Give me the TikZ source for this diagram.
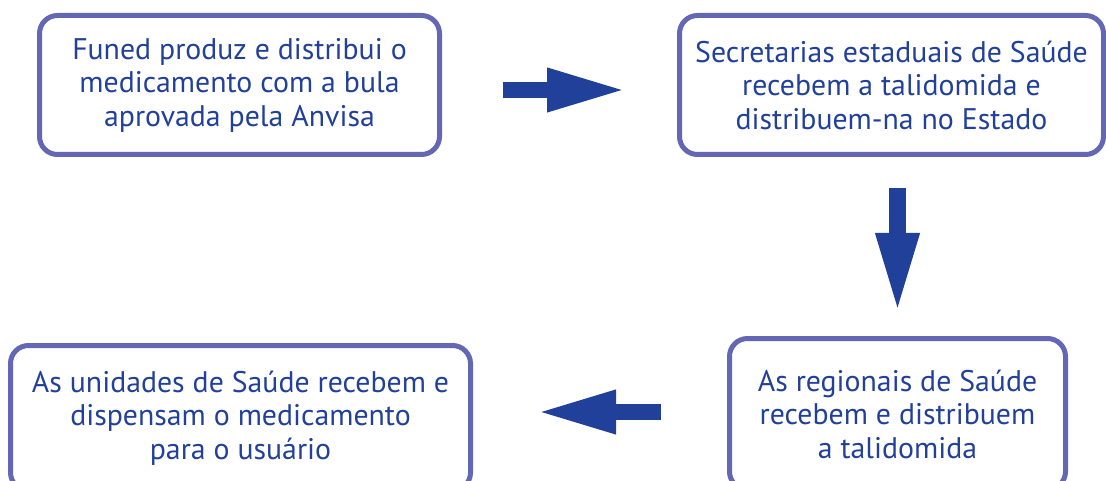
\documentclass[tikz,border=0pt]{standalone}
\usepackage{fontspec}
\setmainfont{PT Sans}
\usetikzlibrary{arrows.meta}
\definecolor{azultexto}{HTML}{21409A}
\definecolor{azulborda}{HTML}{6467B3}

\begin{document}
\begin{tikzpicture}[x=1pt,y=-1pt,
    caixa/.style={draw=azulborda, line width=5pt, rounded corners=18pt, text=azultexto,
      align=center, inner sep=0pt, font=\fontsize{29.8}{33.5}\selectfont},
    seta/.style={draw=azultexto, line width=16.5pt, -{Triangle[length=81pt,width=39.5pt]}}]
  \useasboundingbox (0,0) rectangle (1106,481);

  % Etapa 1 : Funed
  \node[caixa, minimum width=400pt, minimum height=139pt] (E1) at (239.5,85)
    {Funed produz e distribui o\\medicamento com a bula\\aprovada pela Anvisa};

  % Etapa 2 : Secretarias estaduais
  \node[caixa, minimum width=424pt, minimum height=139pt] (E2) at (891.5,85)
    {Secretarias estaduais de Saúde\\recebem a talidomida e\\distribuem-na no Estado};

  % Etapa 3 : Regionais
  \node[caixa, minimum width=336pt, minimum height=151pt] (E3) at (897.5,414)
    {As regionais de Saúde\\recebem e distribuem\\a talidomida};

  % Etapa 4 : Unidades
  \node[caixa, minimum width=460pt, minimum height=145pt] (E4) at (240.5,418)
    {As unidades de Saúde recebem e\\dispensam o medicamento\\para o usuário};

  % Setas entre as etapas
  \draw[seta, shorten <=61pt, shorten >=49pt] ([yshift=-5pt]E1.east) -- ([yshift=-5pt]E2.west); % 1 -> 2
  \draw[seta, shorten <=31pt, shorten >=22pt] (E2.south -| E3.north) -- (E3.north); % 2 -> 3
  \draw[seta, shorten <=66pt, shorten >=62pt] ([yshift=2pt]E3.west) -- ([yshift=2pt]E3.west -| E4.east); % 3 -> 4
\end{tikzpicture}
\end{document}
